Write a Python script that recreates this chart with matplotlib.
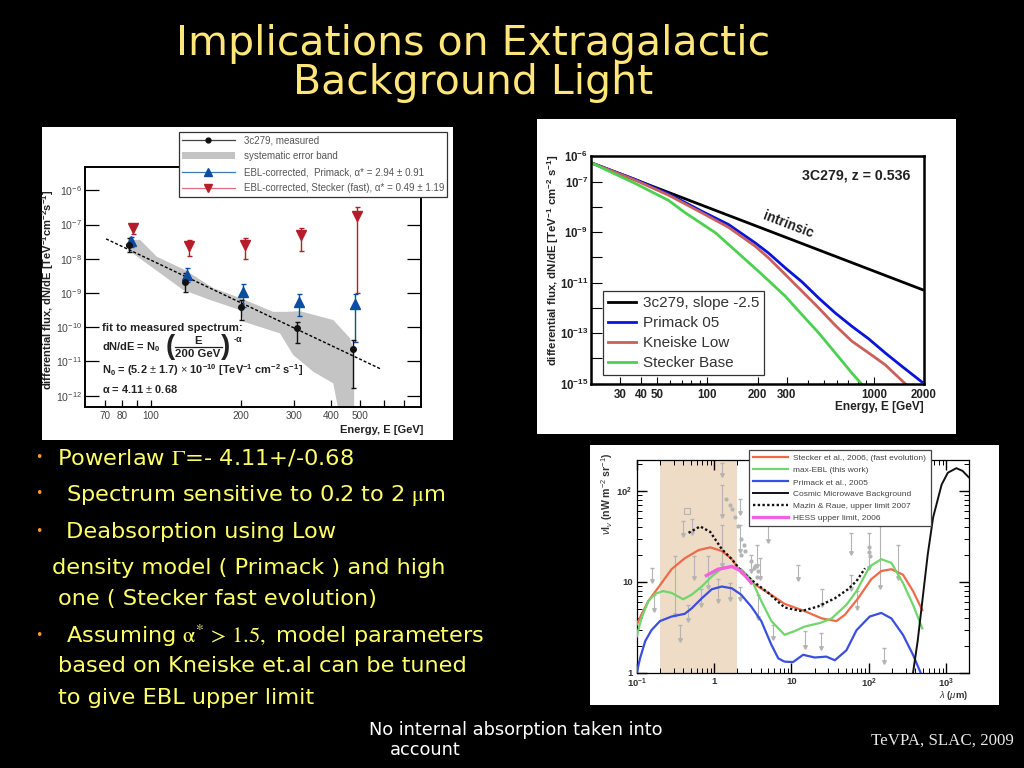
import matplotlib
matplotlib.use("Agg")
import numpy as np
import matplotlib.pyplot as plt
from matplotlib.lines import Line2D
from matplotlib.patches import Patch, Rectangle
from matplotlib.ticker import FixedLocator, NullFormatter, FixedFormatter

plt.rcParams.update({
    'font.family': ['Liberation Sans', 'DejaVu Sans'],
    'mathtext.fontset': 'custom',
    'mathtext.rm': 'Liberation Sans',
    'mathtext.it': 'Liberation Sans:italic',
    'mathtext.bf': 'Liberation Sans:bold',
    'axes.linewidth': 1.4,
})

W, H = 1024, 768

# ---------- Panel 1: 3c279 spectrum ----------
p1_measured_E = [84.6, 130, 200, 308, 475]
p1_measured_log = [-7.60, -8.67, -9.40, -10.03, -10.64]
p1_measured_lo = [-7.79, -8.96, -9.78, -10.47, -11.77]
p1_measured_hi = [-7.40, -8.43, -9.20, -9.84, -10.37]
p1_primack_E = [85.5, 132, 203, 312, 480]
p1_primack_log = [-7.48, -8.47, -8.98, -9.25, -9.33]
p1_primack_lo = [-7.65, -8.67, -9.40, -9.66, -10.42]
p1_primack_hi = [-7.35, -8.28, -8.75, -9.04, -9.04]
p1_stecker_E = [87, 134, 206, 317, 488]
p1_stecker_log = [-7.11, -7.62, -7.60, -7.31, -6.75]
p1_stecker_lo = [-7.29, -7.91, -8.01, -7.77, -9.01]
p1_stecker_hi = [-7.01, -7.45, -7.40, -7.11, -6.48]
p1_band_E = [84.6, 91.9, 104.5, 130, 161.6, 200.5, 256, 284, 315, 407, 463, 478,
             478, 423, 407, 349, 299, 270, 204, 198.6, 157, 128, 84.6]
p1_band_log = [-7.45, -7.45, -7.94, -8.33, -8.86, -9.16, -9.55, -9.55, -9.53, -9.79, -10.32, -10.71,
               -12.4, -12.4, -11.64, -11.30, -10.81, -10.18, -9.84, -9.50, -9.20, -8.91, -7.77]
p1_fit_E = [70.7, 590]
p1_fit_log = [-7.42, -11.23]
p1_xticks_major = [70, 80, 100, 200, 300, 400, 500]
p1_xticks_minor = [90, 600, 700]
p1_yticks = [-6, -7, -8, -9, -10, -11, -12]

# ---------- Panel 2: absorbed spectra ----------
p2_intrinsic_E = [20.1, 1960]
p2_intrinsic_log = [-6.26, -11.28]
p2_primack_E = [20.1, 37, 58.6, 92.9, 134, 194, 233, 294, 370, 466, 586, 738, 929, 1169, 1472, 1941]
p2_primack_log = [-6.26, -6.92, -7.49, -8.18, -8.70, -9.43, -9.83, -10.42, -10.97, -11.61, -12.20,
                  -12.73, -13.22, -13.78, -14.31, -14.93]
p2_kneiske_E = [20.1, 37, 58.6, 92.9, 134, 194, 233, 294, 370, 466, 586, 738, 929, 1169, 1542]
p2_kneiske_log = [-6.26, -6.95, -7.54, -8.24, -8.81, -9.56, -10.02, -10.68, -11.34, -12.00, -12.69,
                  -13.32, -13.78, -14.25, -15.0]
p2_stecker_E = [20.1, 37, 58.6, 73.8, 112, 161, 213, 294, 370, 466, 586, 738, 867]
p2_stecker_log = [-6.26, -7.08, -7.75, -8.24, -9.03, -9.96, -10.68, -11.54, -12.27, -12.99, -13.78,
                  -14.58, -15.1]
p2_xlabels = [30, 40, 50, 100, 200, 300, 1000, 2000]
p2_xminor = [60, 70, 80, 90, 400, 500, 600, 700, 800, 900]
p2_ylabeled = [-6, -7, -9, -11, -13, -15]
p2_yunlabeled = [-8, -10, -12, -14]

# ---------- Panel 3: EBL ----------
p3_stecker_lx = [-1, -.94, -.85, -.72, -.55, -.38, -.20, -.05, .10, .23, .35, .53, .70, .91, 1.17, 1.39, 1.58,
                 1.69, 1.86, 2.03, 2.16, 2.29, 2.44, 2.57, 2.69]
p3_stecker_ly = [.53, .64, .79, .94, 1.14, 1.26, 1.35, 1.38, 1.34, 1.25, 1.10, .97, .88, .76, .68, .60, .57,
                 .64, .82, 1.03, 1.12, 1.14, 1.08, .90, .69]
p3_maxebl_lx = [-1, -.94, -.85, -.76, -.66, -.55, -.40, -.29, -.16, -.03, .10, .23, .35, .48, .61, .74, .91,
                1.04, 1.17, 1.37, 1.52, 1.71, 1.84, 2.01, 2.16, 2.29, 2.44, 2.57, 2.69]
p3_maxebl_ly = [.40, .60, .79, .87, .90, .88, .81, .86, .95, 1.06, 1.15, 1.17, 1.14, 1.03, .79, .57, .42,
                .46, .51, .55, .60, .75, .90, 1.17, 1.25, 1.21, .99, .75, .49]
p3_primack_lx = [-1, -.957, -.89, -.81, -.70, -.55, -.38, -.29, -.16, -.03, .10, .23, .35, .48, .61, .74, .83,
                 .91, 1.02, 1.15, 1.30, 1.45, 1.56, 1.71, 1.84, 2.01, 2.16, 2.29, 2.44, 2.57, 2.67]
p3_primack_ly = [0, .16, .35, .47, .57, .62, .65, .71, .82, .92, .95, .93, .86, .73, .57, .31, .16,
                 .125, .12, .20, .17, .18, .14, .25, .47, .62, .66, .60, .42, .20, 0]
p3_mazin_lx = [-.33, -.18, -.05, .10, .23, .35, .53, .70, .91, 1.13, 1.34, 1.56, 1.73, 1.84, 1.95]
p3_mazin_ly = [1.54, 1.61, 1.55, 1.36, 1.25, 1.12, .99, .88, .72, .68, .73, .82, .92, 1.01, 1.15]
p3_hess_lx = [-.10, .05, .23, .35, .48]
p3_hess_ly = [1.07, 1.14, 1.17, 1.12, .99]
p3_cmb_lx = [2.57, 2.63, 2.70, 2.76, 2.83, 2.94, 3.02, 3.13, 3.21, 3.29]
p3_cmb_ly = [0, .35, .86, 1.30, 1.71, 2.07, 2.20, 2.25, 2.22, 2.15]
p3_obs_lx = [-.80, -.78, -.51, -.44, -.40, -.34, -.29, -.26, -.17, -.08, .05, .10, .10, .10, .21, .34, .34, .34,
             .48, .56, .57, .59, .69, .76, 1.09, 1.17, 1.38, 1.40, 1.77, 1.77, 1.85, 2.00, 2.14, 2.20, 2.38]
p3_obs_hi = [1.15, .86, 1.28, .53, 1.67, .75, 1.69, 1.28, .92, 1.28, 1.03, 2.31, 2.06, 1.63, .99, 1.91, 1.63, .95,
             1.30, 1.41, .86, 1.26, 1.63, .53, 1.19, .46, .44, .92, 1.54, 1.08, .90, 1.54, 1.61, .27, 1.41]
p3_obs_lo = [1.01, .69, .64, .36, 1.52, .58, 1.54, 1.04, .75, .95, .79, 2.17, 1.72, 1.19, .81, 1.76, 1.34, .81,
             1.12, 1.17, .60, 1.04, 1.45, .38, 1.03, .29, .27, .75, 1.32, .92, .71, 1.15, .95, .125, 1.04]
p3_cloud_lx = [.16, .20, .23, .27, .31, .35, .38, .40, .35, .48, .53, .57, .55, .51, 2.00, 2.00, 2.01]
p3_cloud_ly = [1.91, 1.85, 1.80, 1.71, 1.61, 1.47, 1.41, 1.34, 1.30, 1.23, 1.17, 1.12, 1.06, 1.15, 1.38, 1.33, 1.28]
p3_square_lx = [-.35]
p3_square_ly = [1.78]
p3_band = [0.2, 2.0]


def p10(seq):
    return 10.0 ** np.asarray(seq, dtype=float)


def axes_px(fig, left, top, right, bottom):
    return fig.add_axes([left / W, 1 - bottom / H, (right - left) / W, (bottom - top) / H])


def ftext(x, y, s, **kw):
    kw.setdefault('va', 'center')
    return fig.text(x / W, 1 - y / H, s, **kw)


def white_panel(left, top, right, bottom):
    fig.add_artist(Rectangle((left / W, 1 - bottom / H), (right - left) / W, (bottom - top) / H,
                             transform=fig.transFigure, fc='white', ec='none', zorder=0))


fig = plt.figure(figsize=(W / 100, H / 100), dpi=100, facecolor='black')
white_panel(42, 127, 453, 440)
white_panel(537, 119, 956, 434)
white_panel(589.5, 444.5, 998.5, 704.5)

# ---------- Panel 1 draw ----------
ax1 = axes_px(fig, 85, 167, 421, 407)
ax1.set_xscale('log')
ax1.set_yscale('log')
ax1.set_xlim(60.1, 800)
ax1.set_ylim(10 ** -12.33, 10 ** -5.32)
ax1.fill(p1_band_E, p10(p1_band_log), color='#c4c4c4', lw=0, zorder=1)
ax1.plot(p1_fit_E, p10(p1_fit_log), color='black', ls=(0, (2.2, 1.4)), lw=1.0, zorder=2)


def err(ax, x, y, lo, hi, color, marker, ms):
    y, lo, hi = p10(y), p10(lo), p10(hi)
    ax.errorbar(x, y, yerr=[y - lo, hi - y], fmt=marker, color=color, ms=ms, elinewidth=1.0,
                capsize=1.8, capthick=1.0, zorder=3, mec=color)


red_c, blue_c = '#b71c2b', '#0c4da2'
err(ax1, p1_stecker_E, p1_stecker_log, p1_stecker_lo, p1_stecker_hi, red_c, 'v', 6.5)
err(ax1, p1_primack_E, p1_primack_log, p1_primack_lo, p1_primack_hi, blue_c, '^', 6.5)
err(ax1, p1_measured_E, p1_measured_log, p1_measured_lo, p1_measured_hi, '#111111', 'o', 4)

ax1.xaxis.set_major_locator(FixedLocator(p1_xticks_major))
ax1.xaxis.set_major_formatter(FixedFormatter([str(v) for v in p1_xticks_major]))
ax1.xaxis.set_minor_locator(FixedLocator(p1_xticks_minor))
ax1.xaxis.set_minor_formatter(NullFormatter())
ax1.yaxis.set_major_locator(FixedLocator(list(p10(p1_yticks))))
ax1.yaxis.set_major_formatter(FixedFormatter([rf'10$^{{{v}}}$' for v in p1_yticks]))
ax1.yaxis.set_minor_locator(FixedLocator([]))
ax1.tick_params(axis='y', which='major', direction='in', left=True, right=True, length=10, width=0.9,
                labelsize=7.6, labelcolor='#444444', pad=2)
ax1.tick_params(axis='x', which='both', direction='in', top=False, length=5, width=0.9,
                labelsize=7.2, labelcolor='#444444', pad=3)
ftext(48.5, 290, r'differential flux, dN/dE [TeV$^{\mathbf{-1}}$cm$^{\mathbf{-2}}$s$^{\mathbf{-1}}$]',
      rotation=90, ha='center', fontsize=8, fontweight='bold', color='#222222')
ftext(423, 430, 'Energy, E [GeV]', ha='right', fontsize=8, fontweight='bold', color='#222222')
note = dict(fontsize=7.9, fontweight='bold', color='#222222', ha='left')
ftext(102.5, 328, 'fit to measured spectrum:', fontsize=8.2, fontweight='bold', color='#222222', ha='left')
ftext(102.5, 347, r'dN/dE = N$_{\mathbf{0}}$', **note)
ftext(170, 347, '(', ha='center', fontsize=20, color='#222222', fontweight='bold')
ftext(198, 341, 'E', ha='center', fontsize=8.2, fontweight='bold', color='#222222')
ftext(198, 354, '200 GeV', ha='center', fontsize=8.2, fontweight='bold', color='#222222')
fig.add_artist(Line2D([175 / W, 222 / W], [1 - 347.5 / H, 1 - 347.5 / H], color='#222222', lw=0.9))
ftext(226, 347, ')', ha='center', fontsize=20, color='#222222', fontweight='bold')
ftext(233, 339, r'-$\mathbf{\alpha}$', ha='left', fontsize=6.5, fontweight='bold', color='#222222')
ftext(102.5, 370, r'N$_{\mathbf{0}}$ = (5.2 $\pm$ 1.7) $\times$ 10$^{\mathbf{-10}}$ [TeV$^{\mathbf{-1}}$ cm$^{\mathbf{-2}}$ s$^{\mathbf{-1}}$]', **note)
ftext(102.5, 389, r'$\mathbf{\alpha}$ = 4.11 $\pm$ 0.68', **note)

h1 = [Line2D([], [], color='#444444', lw=0.9, marker='o', ms=3.5, mfc='#111111', mec='#111111'),
      Patch(fc='#c4c4c4', ec='none'),
      Line2D([], [], color='#3b78b8', lw=0.9, marker='^', ms=6, mfc=blue_c, mec=blue_c),
      Line2D([], [], color='#d9707c', lw=0.9, marker='v', ms=6, mfc=red_c, mec=red_c)]
l1 = ['3c279, measured', 'systematic error band',
      'EBL-corrected,  Primack, \u03b1* = 2.94 \u00b1 0.91',
      'EBL-corrected, Stecker (fast), \u03b1* = 0.49 \u00b1 1.19']
leg1 = fig.legend(h1, l1, loc='upper left', bbox_to_anchor=(178.7 / W, 1 - 131.7 / H),
                  bbox_transform=fig.transFigure, fontsize=7.0, frameon=True, fancybox=False,
                  framealpha=1, edgecolor='#333333', labelcolor='#555555', borderaxespad=0,
                  handlelength=5.4, handletextpad=0.93, labelspacing=0.62, borderpad=0.35)
leg1.get_frame().set_linewidth(0.9)
leg1.set_zorder(5)

# ---------- Panel 2 draw ----------
ax2 = axes_px(fig, 591, 156.3, 924, 383.7)
ax2.set_xscale('log')
ax2.set_yscale('log')
ax2.set_xlim(20, 2000)
ax2.set_ylim(1e-15, 1e-6)
l_int, = ax2.plot(p2_intrinsic_E, p10(p2_intrinsic_log), color='black', lw=2)
l_pri, = ax2.plot(p2_primack_E, p10(p2_primack_log), color='#0a14d8', lw=2)
l_kne, = ax2.plot(p2_kneiske_E, p10(p2_kneiske_log), color='#c8605c', lw=2)
l_ste, = ax2.plot(p2_stecker_E, p10(p2_stecker_log), color='#4cd050', lw=2)
ax2.set_xticks(p2_xlabels)
ax2.set_xticklabels([str(v) for v in p2_xlabels], fontsize=8.3, fontweight='bold', color='#222222')
ax2.xaxis.set_minor_locator(FixedLocator(p2_xminor))
ax2.xaxis.set_minor_formatter(NullFormatter())
ax2.set_yticks(list(p10(p2_ylabeled)))
ax2.set_yticklabels([rf'10$^{{\mathbf{{{v}}}}}$' for v in p2_ylabeled], fontsize=8.3, fontweight='bold', color='#222222')
ax2.yaxis.set_minor_locator(FixedLocator(list(p10(p2_yunlabeled))))
ax2.yaxis.set_minor_formatter(NullFormatter())
ax2.tick_params(axis='x', which='major', direction='in', length=5, width=0.8, pad=4, top=False)
ax2.tick_params(axis='x', which='minor', direction='in', length=3, width=0.8, top=False)
ax2.tick_params(axis='y', which='both', direction='in', length=8, width=0.8, pad=2, right=False)
for s in ax2.spines.values():
    s.set_linewidth(1.8)
ftext(553, 260.5, r'differential flux, dN/dE [TeV$^{\mathbf{-1}}$ cm$^{\mathbf{-2}}$ s$^{\mathbf{-1}}$]',
      rotation=90, ha='center', fontsize=8.2, fontweight='bold', color='#222222')
ftext(924, 407, 'Energy, E [GeV]', ha='right', fontsize=8.6, fontweight='bold', color='#222222')
ftext(856, 176, '3C279, z = 0.536', ha='center', fontsize=10.2, fontweight='bold', color='#222222')
ftext(788, 225, 'intrinsic', ha='center', fontsize=9.8, fontweight='bold', color='#222222', rotation=-21)
leg2 = ax2.legend([l_int, l_pri, l_kne, l_ste],
                  ['3c279, slope -2.5', 'Primack 05', 'Kneiske Low', 'Stecker Base'],
                  loc='upper left', bbox_to_anchor=(603.3 / W, 1 - 291.3 / H), bbox_transform=fig.transFigure,
                  fontsize=11, frameon=True, fancybox=False, framealpha=1, edgecolor='#333333',
                  labelcolor='#333333', borderaxespad=0, handlelength=1.85, handletextpad=0.45,
                  labelspacing=0.4, borderpad=0.3)
leg2.get_frame().set_linewidth(0.9)

# ---------- Panel 3 draw ----------
ax3 = axes_px(fig, 636.7, 460.3, 969.3, 673)
ax3.set_xscale('log')
ax3.set_yscale('log')
ax3.set_xlim(0.1, 1983)
ax3.set_ylim(1, 217)
ax3.axvspan(p3_band[0], p3_band[1], color='#efdcc6', lw=0, zorder=0)
gray = '#b4b4b4'
ax3.vlines(p10(p3_obs_lx), p10(p3_obs_lo), p10(p3_obs_hi), color=gray, lw=0.8, zorder=1)
ax3.plot(p10(p3_obs_lx), p10(p3_obs_lo), ls='none', marker='v', ms=2.6, color=gray, zorder=1)
ax3.plot(p10(p3_obs_lx), p10(p3_obs_hi), ls='none', marker='_', ms=3, color=gray, zorder=1)
ax3.plot(p10(p3_cloud_lx), p10(p3_cloud_ly), ls='none', marker='o', ms=3, color=gray, mew=0, zorder=1)
ax3.plot(p10(p3_square_lx), p10(p3_square_ly), ls='none', marker='s', ms=4.5, mfc='none', mec=gray, mew=0.8, zorder=1)
c_s, = ax3.plot(p10(p3_stecker_lx), p10(p3_stecker_ly), color='#ee6a4a', lw=1.6, zorder=3)
c_m, = ax3.plot(p10(p3_maxebl_lx), p10(p3_maxebl_ly), color='#70d66c', lw=1.6, zorder=3)
c_p, = ax3.plot(p10(p3_primack_lx), p10(p3_primack_ly), color='#3a4fe0', lw=1.6, zorder=3)
c_c, = ax3.plot(p10(p3_cmb_lx), p10(p3_cmb_ly), color='#111111', lw=1.4, zorder=3)
c_z, = ax3.plot(p10(p3_mazin_lx), p10(p3_mazin_ly), color='#111111', lw=1.7, ls=(0, (1, 1)), zorder=4)
c_h, = ax3.plot(p10(p3_hess_lx), p10(p3_hess_ly), color='#f060e0', lw=2.4, zorder=4)
ax3.set_xticks([0.1, 1, 10, 100, 1000])
ax3.set_xticklabels([r'10$^{\mathbf{-1}}$', '1', '10', r'10$^{\mathbf{2}}$', r'10$^{\mathbf{3}}$'],
                    fontsize=6.8, fontweight='bold', color='#333333')
ax3.set_yticks([1, 10, 100])
ax3.set_yticklabels(['1', '10', r'10$^{\mathbf{2}}$'], fontsize=6.8, fontweight='bold', color='#333333')
ax3.tick_params(axis='both', which='major', direction='in', top=True, right=True, length=7, width=1.0, pad=3)
ax3.tick_params(axis='both', which='minor', direction='in', top=True, right=True, length=3.5, width=0.7,
                labelbottom=False, labelleft=False)
for s in ax3.spines.values():
    s.set_linewidth(0.9)
ftext(607, 494, r'$\nu$I$_{\nu}$ (nW m$^{-2}$ sr$^{-1}$)', rotation=90, ha='center', fontsize=7.6,
      fontweight='bold', color='#333333')
ftext(968, 696, r'$\lambda$ ($\mu$m)', ha='right', fontsize=6.8, fontweight='bold', color='#333333')
leg3 = ax3.legend([c_s, c_m, c_p, c_c, c_z, c_h],
                  ['Stecker et al., 2006, (fast evolution)', 'max-EBL (this work)', 'Primack et al., 2005',
                   'Cosmic Microwave Background', 'Mazin & Raue, upper limit 2007', 'HESS upper limit, 2006'],
                  loc='upper left', bbox_to_anchor=(749.3 / W, 1 - 449.7 / H), bbox_transform=fig.transFigure,
                  fontsize=6.0, frameon=True, fancybox=False, framealpha=1, edgecolor='#444444',
                  labelcolor='#444444', borderaxespad=0, handlelength=4.2, handletextpad=0.6,
                  labelspacing=0.5, borderpad=0.5)
leg3.get_frame().set_linewidth(0.9)

# ---------- Slide text ----------
TITLE_C, BODY_C = '#ffe678', '#ffff66'
slide_font = ['DejaVu Sans']
ftext(473, 44, 'Implications on Extragalactic', ha='center', fontsize=29.5, color=TITLE_C, family=slide_font)
ftext(473, 83, 'Background Light', ha='center', fontsize=29.5, color=TITLE_C, family=slide_font)

body = dict(fontsize=16.2, color=BODY_C, family=slide_font, ha='left', math_fontfamily='stix')
ftext(57, 458, r'Powerlaw $\mathrm{\Gamma}$=- 4.11+/-0.68', **body)
ftext(66, 495, r'Spectrum sensitive to 0.2 to 2 $\mathrm{\mu}$m', **body)
ftext(66, 532, 'Deabsorption using Low', **body)
ftext(52, 568, 'density model ( Primack ) and high', **body)
ftext(58, 599, 'one ( Stecker fast evolution)', **body)
ftext(66, 636, r'Assuming $\mathrm{\alpha}^{*}\,>\,\mathrm{1.5,}$ model parameters', **body)
ftext(58, 666, 'based on Kneiske et.al can be tuned', **body)
ftext(58, 698, 'to give EBL upper limit', **body)
for yb in (458, 494, 531, 636):
    ftext(39, yb, '\u2022', ha='center', fontsize=9, color='#ff9a20', family='DejaVu Sans')
ftext(369, 730, 'No internal absorption taken into', fontsize=12.8, color='white', family=slide_font, ha='left')
ftext(390, 750, 'account', fontsize=12.8, color='white', family=slide_font, ha='left')
ftext(1014, 741, 'TeVPA, SLAC, 2009', ha='right', fontsize=12.2, color='#e8e8e8', family='Liberation Serif')

fig.savefig('out.png', dpi=100, facecolor='black')
